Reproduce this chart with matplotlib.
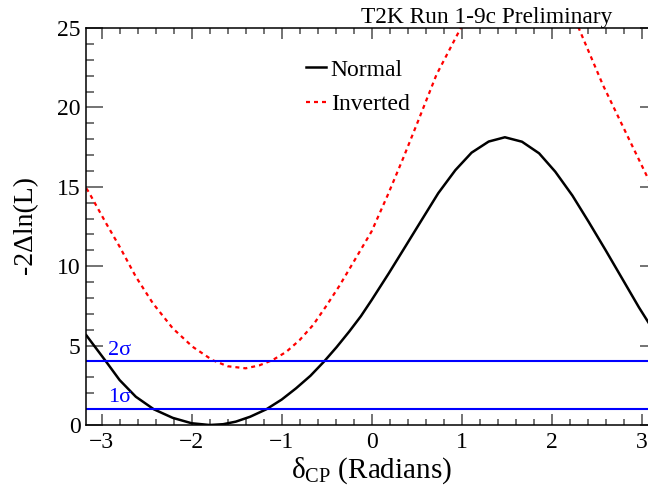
import matplotlib
matplotlib.use("Agg")
import matplotlib.pyplot as plt
from matplotlib.ticker import MultipleLocator

plt.rcParams['font.family'] = ['Liberation Serif', 'DejaVu Serif']
plt.rcParams['mathtext.fontset'] = 'custom'
plt.rcParams['mathtext.rm'] = 'Liberation Serif'
plt.rcParams['mathtext.it'] = 'Liberation Serif:italic'

# Normal hierarchy: -2 delta ln L vs delta_CP
normal_x = [-3.17, -3.145, -2.95, -2.80, -2.62, -2.42, -2.21, -2.00, -1.80, -1.65,
            -1.51, -1.35, -1.17, -1.00, -0.84, -0.68, -0.53, -0.39, -0.25, -0.12,
            0.0, 0.19, 0.37, 0.56, 0.74, 0.93, 1.11, 1.30, 1.48, 1.67,
            1.86, 2.04, 2.23, 2.41, 2.60, 2.78, 2.97, 3.07, 3.17]
normal_y = [5.65, 5.46, 3.99, 2.83, 1.78, 0.99, 0.45, 0.11, 0.0, 0.05,
            0.21, 0.52, 0.99, 1.60, 2.31, 3.10, 3.99, 4.90, 5.88, 6.85,
            7.87, 9.55, 11.20, 12.95, 14.60, 16.05, 17.15, 17.85, 18.12, 17.84,
            17.11, 15.95, 14.45, 12.80, 11.00, 9.25, 7.40, 6.50, 5.60]

# Inverted hierarchy
inverted_x = [-3.17, -3.145, -2.95, -2.80, -2.62, -2.43, -2.21, -1.99, -1.77, -1.60,
              -1.40, -1.25, -1.10, -0.95, -0.80, -0.65, -0.51, -0.36, -0.21, 0.0,
              0.18, 0.35, 0.52, 0.72, 0.99, 1.25, 1.50, 1.70, 1.95,
              2.30, 2.57, 2.87, 3.07, 3.17]
inverted_y = [14.9, 14.69, 12.70, 11.23, 9.34, 7.66, 6.09, 4.93, 4.09, 3.70,
              3.57, 3.75, 4.09, 4.60, 5.35, 6.30, 7.45, 8.75, 10.18, 12.2,
              14.5, 16.8, 19.2, 22.06, 25.0, 27.6, 29.2, 29.6, 28.6,
              25.0, 21.4, 17.87, 15.53, 14.5]

# confidence levels
sigma_levels = [1, 4]
sigma_labels = ["1σ", "2σ"]

fig = plt.figure(figsize=(6.48, 4.88), dpi=100)
ax = fig.add_axes([0.1332, 0.1291, 0.8807, 0.8135])

ax.plot(normal_x, normal_y, color='black', lw=1.8, label='Normal')
ax.plot(inverted_x, inverted_y, color='red', lw=1.6, dashes=(1.8, 1.8), label='Inverted')

for lev, lab in zip(sigma_levels, sigma_labels):
    ax.axhline(lev, color='#0000ff', lw=1.5)
    ax.text(-2.93, lev + 0.12, lab, color='#0000ff', fontsize=16,
            ha='left', va='bottom')

ax.set_xlim(-3.17, 3.17)
ax.set_ylim(0, 25)
ax.xaxis.set_major_locator(MultipleLocator(1))
ax.xaxis.set_minor_locator(MultipleLocator(0.2))
ax.yaxis.set_major_locator(MultipleLocator(5))
ax.yaxis.set_minor_locator(MultipleLocator(1))

ax.tick_params(which='both', direction='in', top=True, right=True,
               color='0.3', width=1.1, labelsize=17)
ax.tick_params(axis='x', which='major', length=8, pad=5)
ax.tick_params(axis='x', which='minor', length=4.3)
ax.tick_params(axis='y', which='major', length=12, pad=4)
ax.tick_params(axis='y', which='minor', length=6)
for s in ax.spines.values():
    s.set_linewidth(1.1)

ax.set_xlabel(r'$\mathrm{δ_{CP}}$ (Radians)', fontsize=21, labelpad=2)
fig.text(26 / 648, 1 - 225 / 488, '-2Δln(L)', fontsize=20, rotation=90,
         ha='center', va='center')

fig.text(612 / 648, 1 - 23 / 488, 'T2K Run 1-9c Preliminary', fontsize=16.8,
         ha='right', va='baseline')

leg = ax.legend(loc='upper left', bbox_to_anchor=(0.385, 0.922), frameon=False,
                fontsize=17, handlelength=0.85, handletextpad=0.2,
                borderpad=0, borderaxespad=0, labelspacing=0.55)

fig.savefig('out.png', dpi=100)
